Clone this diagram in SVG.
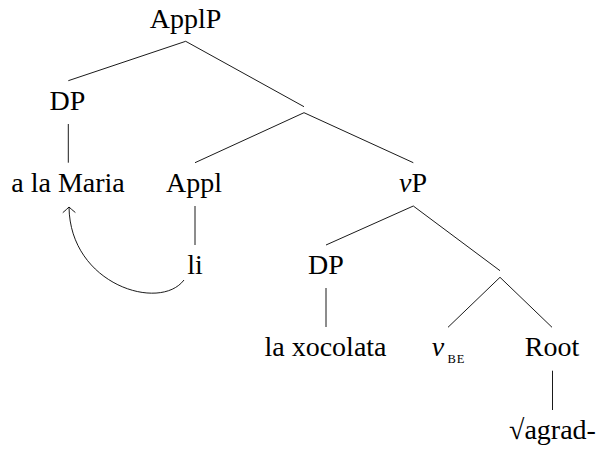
<svg xmlns="http://www.w3.org/2000/svg" width="601" height="450" viewBox="0 0 601 450">
<style>
text{font-family:'Liberation Serif','Times New Roman',Times,'DejaVu Serif',serif;fill:#000}
.lbl{font-size:28px;text-anchor:middle}
.sub{font-size:12.5px;letter-spacing:1px}
.edge{stroke:#000;stroke-width:0.9;fill:none}
</style>
<defs>
<marker id="arr" markerUnits="userSpaceOnUse" markerWidth="20" markerHeight="20" refX="0" refY="0" orient="auto" overflow="visible">
<path d="M-5.6,-6.3 Q-2.2,-2.2 0,0 Q-2.2,2.2 -5.6,6.3" fill="none" stroke="#000" stroke-width="0.9"/>
</marker>
</defs>
<rect width="601" height="450" fill="#fff"/>
<g id="connectors">
<line class="edge" x1="185.7" y1="41.3" x2="68.3" y2="80.7"/>
<line class="edge" x1="185.7" y1="41.3" x2="304" y2="106.7"/>
<line class="edge" x1="68.3" y1="124" x2="68.3" y2="162.7"/>
<line class="edge" x1="304" y1="112.7" x2="195" y2="162.7"/>
<line class="edge" x1="304" y1="112.7" x2="413.3" y2="162.7"/>
<line class="edge" x1="195" y1="206" x2="195" y2="245"/>
<line class="edge" x1="413.3" y1="206" x2="326" y2="245"/>
<line class="edge" x1="413.3" y1="206" x2="500" y2="270.7"/>
<line class="edge" x1="326" y1="288" x2="326" y2="327"/>
<line class="edge" x1="500" y1="277.3" x2="448" y2="327.3"/>
<line class="edge" x1="500" y1="277.3" x2="552" y2="327.3"/>
<line class="edge" x1="552.5" y1="370.7" x2="552.5" y2="410"/>
<path class="edge" d="M184,280 C160,312 70,285 69,207" marker-end="url(#arr)"/>
</g>
<g id="n-applp"><text class="lbl" x="185.5" y="27.5">ApplP</text></g>
<g id="n-dp1"><text class="lbl" x="67.5" y="110">DP</text></g>
<g id="n-maria"><text class="lbl" x="68" y="191.7">a la Maria</text></g>
<g id="n-appl"><text class="lbl" x="194" y="191.7">Appl</text></g>
<g id="n-vp"><text class="lbl" x="413" y="191.7"><tspan font-style="italic">v</tspan>P</text></g>
<g id="n-li"><text class="lbl" x="195" y="273.5">li</text></g>
<g id="n-dp2"><text class="lbl" x="326" y="273.5">DP</text></g>
<g id="n-xocolata"><text class="lbl" x="325.5" y="355.7">la xocolata</text></g>
<g id="n-vbe"><text class="lbl" x="438" y="355.7" font-style="italic">v</text><text class="sub" x="447.5" y="362.5">BE</text></g>
<g id="n-root"><text class="lbl" x="552" y="355.7">Root</text></g>
<g id="n-agrad"><text class="lbl" x="552.5" y="439.3">√agrad-</text></g>
</svg>
